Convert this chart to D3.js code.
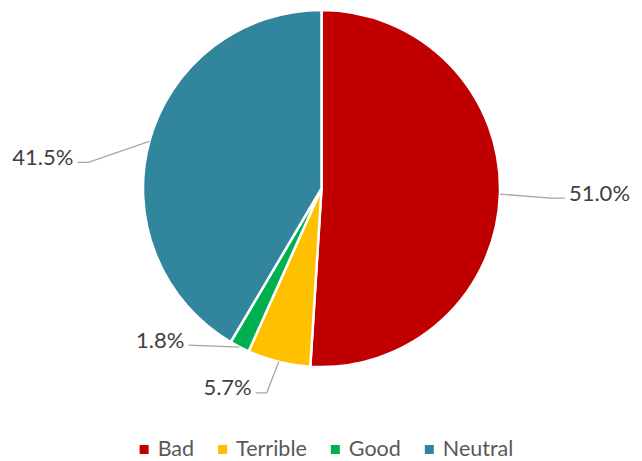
<!DOCTYPE html>
<html>
<head>
<meta charset="utf-8">
<script src="https://cdn.jsdelivr.net/npm/d3@7"></script>
<style>
  body { margin: 0; background: #fff; }
  svg text { font-family: Lato, "Open Sans", sans-serif; }
</style>
</head>
<body>
<svg class="svg_pie" width="642" height="461"></svg>
<script>
// chart data
var categories = ["Bad", "Terrible", "Good", "Neutral"];
var values = [51.0, 5.7, 1.8, 41.5];

var colors = ["#C00000", "#FFC000", "#00B050", "#31859C"];

var svg = d3.select(".svg_pie"),
    cx = 321.5, cy = 188.5,
    radius = 178.5;

var g = svg.append("g").attr("transform", "translate(" + cx + "," + cy + ")");

var data = categories.map(function(c, i) { return {name: c, value: values[i]}; });

var pie = d3.pie().sort(null).value(function(d) { return d.value; });
var arc = d3.arc().innerRadius(0).outerRadius(radius);

var arcs = pie(data);

// slices
g.selectAll(".slice")
    .data(arcs)
  .enter().append("path")
    .attr("class", "slice")
    .attr("d", arc)
    .attr("fill", function(d, i) { return colors[i]; })
    .attr("stroke", "#fff")
    .attr("stroke-width", 2.5)
    .attr("stroke-linejoin", "round");

// leader line layout: bend offset from the slice edge, then a short horizontal run
var bends = [[51, 4], [-12, 31], [-51, -2], [-61, 21]];
var runs = [14, -11, 0, -11];

function edgePoint(d) {
  var a = (d.startAngle + d.endAngle) / 2;
  return [radius * Math.sin(a), -radius * Math.cos(a)];
}

arcs.forEach(function(d, i) {
  var p0 = edgePoint(d),
      p1 = [p0[0] + bends[i][0], p0[1] + bends[i][1]],
      p2 = [p1[0] + runs[i], p1[1]];
  var right = p0[0] > 0;

  g.append("path")
      .attr("d", d3.line()([p0, p1, p2]))
      .attr("fill", "none")
      .attr("stroke", "#A6A6A6")
      .attr("stroke-width", 1.3);

  g.append("text")
      .attr("x", p2[0] + (right ? 4 : -4))
      .attr("y", p2[1] - 6)
      .attr("dominant-baseline", "central")
      .attr("text-anchor", right ? "start" : "end")
      .attr("fill", "#404040")
      .style("font-size", "22px")
      .text(d.data.value.toFixed(1) + "%");
});

// legend
var legend = svg.append("g").attr("class", "legend");
var x = 0;
categories.forEach(function(c, i) {
  var item = legend.append("g").attr("transform", "translate(" + x + ",0)");
  item.append("rect")
      .attr("x", 0).attr("y", -3)
      .attr("width", 9).attr("height", 9)
      .attr("fill", colors[i]);
  var t = item.append("text")
      .attr("x", 18).attr("y", 0)
      .attr("dominant-baseline", "central")
      .attr("fill", "#595959")
      .style("font-size", "21.5px")
      .text(c);
  x += 18 + t.node().getComputedTextLength() + 24;
});
var legendWidth = x - 24;
legend.attr("transform", "translate(" + (326.5 - legendWidth / 2) + ",448)");
</script>
</body>
</html>
